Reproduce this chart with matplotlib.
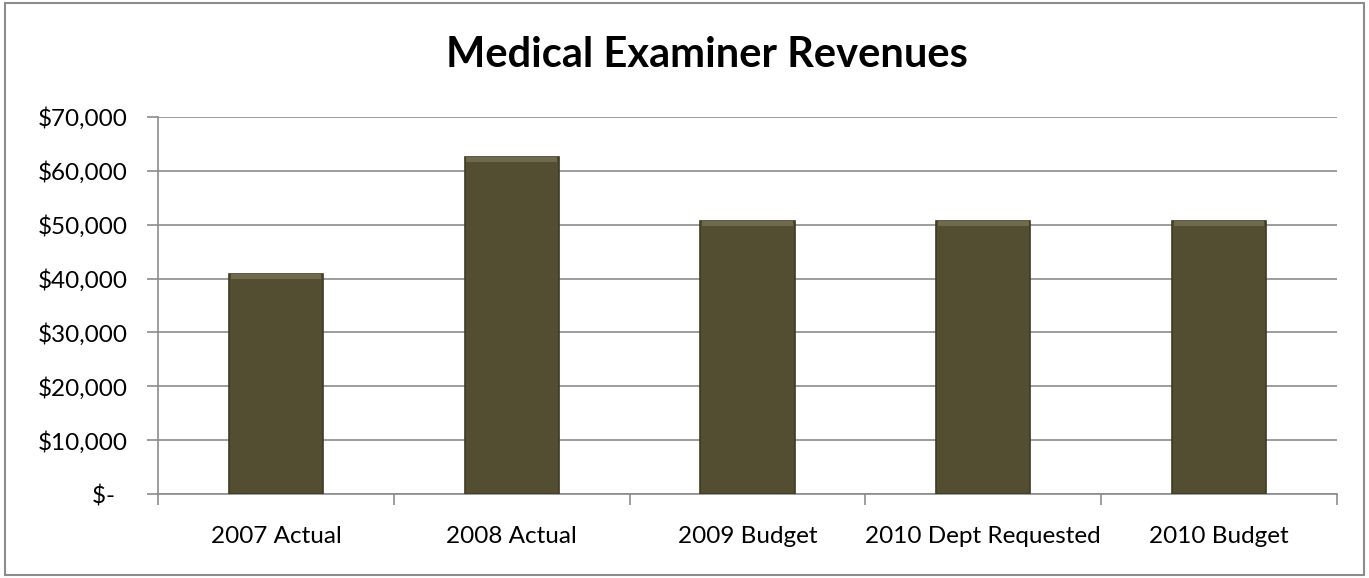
import matplotlib.pyplot as plt
from matplotlib.patches import Rectangle
from matplotlib.ticker import FixedLocator

categories = ['2007 Actual', '2008 Actual', '2009 Budget', '2010 Dept Requested', '2010 Budget']
revenues = [40800, 62600, 50600, 50600, 50600]
y_ticks = [0, 10000, 20000, 30000, 40000, 50000, 60000, 70000]
y_labels = ['$-  ', '$10,000', '$20,000', '$30,000', '$40,000', '$50,000', '$60,000', '$70,000']

plt.rcParams['font.family'] = ['Lato', 'DejaVu Sans']

fig = plt.figure(figsize=(13.69, 5.78), dpi=100, facecolor='white')
ax = fig.add_axes([0.1154, 0.1453, 0.8612, 0.6523])

grid_c = '#8c8c8c'
x = range(len(categories))
bars = ax.bar(x, revenues, width=0.40, color='#534e32', edgecolor='#3e3a24', linewidth=1.2, zorder=3)

# lighter top bevel on each bar
for b in bars:
    h = b.get_height()
    ax.bar(b.get_x() + b.get_width() / 2, 900, bottom=h - 900, width=b.get_width() * 0.96,
           color='#6f6a4b', linewidth=0, zorder=4)

ax.set_xlim(-0.5, len(categories) - 0.5)
ax.set_ylim(0, 70000)
ax.set_yticks(y_ticks)
ax.set_yticklabels(y_labels, fontsize=17.5)
ax.yaxis.grid(True, color=grid_c, linewidth=1.2, zorder=0)
ax.set_axisbelow(True)

ax.set_xticks(list(x))
ax.set_xticklabels(categories, fontsize=17.5)
ax.tick_params(axis='x', length=0, pad=23)
ax.xaxis.set_minor_locator(FixedLocator([i - 0.5 for i in range(len(categories) + 1)]))
ax.tick_params(axis='x', which='minor', length=8, color=grid_c, width=1.2)
ax.tick_params(axis='y', length=8, color=grid_c, width=1.2, pad=14)

for side in ['top', 'right']:
    ax.spines[side].set_visible(False)
for side in ['left', 'bottom']:
    ax.spines[side].set_color(grid_c)
    ax.spines[side].set_linewidth(1.2)

fig.text(0.5165, 0.905, 'Medical Examiner Revenues', ha='center', va='center',
         fontsize=30, fontweight='bold')

fig.patches.append(Rectangle((0.004, 0.006), 0.992, 0.988, transform=fig.transFigure,
                             fill=False, edgecolor='#8c8c8c', linewidth=1.5))

fig.savefig('out.png', dpi=100, facecolor='white')
